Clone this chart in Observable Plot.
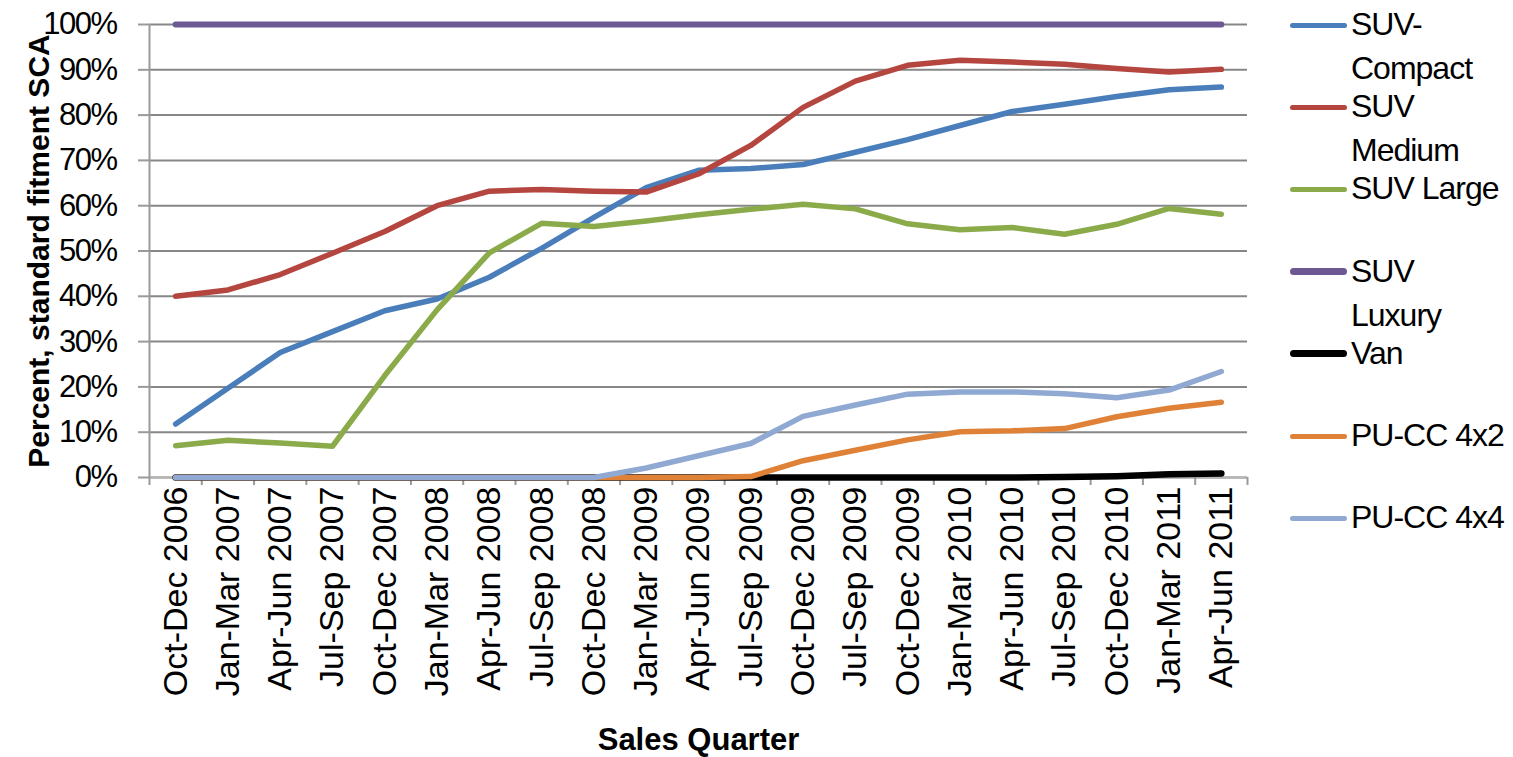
<!DOCTYPE html>
<html>
<head>
<meta charset="utf-8">
<script src="https://cdn.jsdelivr.net/npm/d3@7"></script>
<script src="https://cdn.jsdelivr.net/npm/@observablehq/plot@0.6"></script>
<style>
  body { margin: 0; background: #fff; }
  #wrap { position: relative; width: 1513px; height: 757px; overflow: hidden; font-family: "Liberation Sans", Arial, sans-serif; }
  #legend { position: absolute; left: 1290px; top: 0; }
  .key { position: absolute; left: 0; width: 57px; border-radius: 4px; }
  .lab { position: absolute; left: 61px; font-size: 32px; line-height: 44px; letter-spacing: -1px; white-space: nowrap; color: #000; }
  g[aria-label="y-axis tick label"] text { font-size: 31px; letter-spacing: -1.5px; }
  g[aria-label="x-axis tick label"] text { font-size: 34px; }
</style>
</head>
<body>
<div id="wrap"></div>
<script>
// ---- data ----
const quarters = ["Oct-Dec 2006","Jan-Mar 2007","Apr-Jun 2007","Jul-Sep 2007","Oct-Dec 2007","Jan-Mar 2008","Apr-Jun 2008","Jul-Sep 2008","Oct-Dec 2008","Jan-Mar 2009","Apr-Jun 2009","Jul-Sep 2009","Oct-Dec 2009","Jul-Sep 2009","Oct-Dec 2009","Jan-Mar 2010","Apr-Jun 2010","Jul-Sep 2010","Oct-Dec 2010","Jan-Mar 2011","Apr-Jun 2011"];
const suvCompact = [11.8,19.7,27.6,32.2,36.8,39.4,44.2,50.6,57.4,64.0,67.8,68.2,69.1,71.8,74.6,77.7,80.8,82.4,84.1,85.6,86.2];
const suvMedium  = [40.0,41.4,44.8,49.5,54.3,60.0,63.2,63.6,63.2,63.0,67.0,73.3,81.7,87.5,91.0,92.1,91.7,91.2,90.3,89.5,90.1];
const suvLarge   = [7.0,8.2,7.6,6.9,22.5,37.0,49.6,56.1,55.4,56.6,58.0,59.2,60.3,59.3,56.0,54.7,55.2,53.7,55.9,59.4,58.1];
const suvLuxury  = [100,100,100,100,100,100,100,100,100,100,100,100,100,100,100,100,100,100,100,100,100];
const van        = [0,0,0,0,0,0,0,0,0,0,0,0,0,0,0,0,0,0.1,0.3,0.7,0.9];
const pu4x2      = [0,0,0,0,0,0,0,0,0,0,0,0.2,3.7,6.0,8.3,10.1,10.3,10.8,13.4,15.3,16.6];
const pu4x4      = [0,0,0,0,0,0,0,0,0,2.1,4.8,7.5,13.5,16.0,18.4,18.9,18.9,18.5,17.6,19.3,23.4];
const seriesNames = ["SUV-Compact","SUV Medium","SUV Large","SUV Luxury","Van","PU-CC 4x2","PU-CC 4x4"];
const legendLines = [["SUV-","Compact"],["SUV","Medium"],["SUV Large"],["SUV","Luxury"],["Van"],["PU-CC 4x2"],["PU-CC 4x4"]];
const yTickValues = [0,0.1,0.2,0.3,0.4,0.5,0.6,0.7,0.8,0.9,1.0];

// ---- styling ----
const seriesData = [suvCompact, suvMedium, suvLarge, suvLuxury, van, pu4x2, pu4x4];
const colors = ["#4a7ebb","#b4453f","#8bab4b","#6c5893","#000000","#df8238","#8fa9d2"];
const widths = [5.5, 5.5, 5.5, 6, 6.5, 5.5, 5.5];

const idx = d3.range(quarters.length);
const boundaries = d3.range(-0.5, quarters.length, 1);

const lineMarks = seriesData.map((vals, k) =>
  Plot.line(idx, {x: i => i, y: i => vals[i] / 100, stroke: colors[k], strokeWidth: widths[k],
    strokeLinejoin: "round", strokeLinecap: "round"}));

const chart = Plot.plot({
  width: 1513,
  height: 757,
  marginLeft: 149,
  marginRight: 266,
  marginTop: 24,
  marginBottom: 280,
  x: {type: "linear", domain: [-0.5, quarters.length - 0.5]},
  y: {domain: [0, 1]},
  style: {fontFamily: "'Liberation Sans', Arial, sans-serif", fontSize: "32px", color: "#000", background: "#fff", overflow: "visible"},
  marks: [
    Plot.gridY(yTickValues, {stroke: "#878787", strokeOpacity: 1, strokeWidth: 2}),
    Plot.ruleY([0], {stroke: "#b5b5b5", strokeWidth: 2}),
    Plot.ruleX([-0.5], {stroke: "#9a9a9a", strokeWidth: 2}),
    Plot.axisY(yTickValues, {tickSize: 11, tickFormat: () => "", stroke: "#9a9a9a", strokeWidth: 2, label: null}),
    Plot.axisY(yTickValues, {tickSize: 0, tickPadding: 33, tickFormat: d => Math.round(d * 100) + "%", label: null}),
    Plot.axisX(boundaries, {tickSize: 8, tickFormat: () => "", stroke: "#9a9a9a", strokeWidth: 2, label: null}),
    Plot.axisX(idx, {tickSize: 0, tickPadding: 9, tickRotate: -90, tickFormat: i => quarters[i], label: null}),
    ...lineMarks,
    Plot.text(["Percent, standard fitment SCA"], {frameAnchor: "left", textAnchor: "middle", rotate: -90, dx: -110, fontWeight: "bold", fontSize: 30}),
    Plot.text(["Sales Quarter"], {frameAnchor: "bottom", lineAnchor: "middle", dy: 263, fontWeight: "bold", fontSize: 31, letterSpacing: "-0.5px"})
  ]
});

const wrap = document.getElementById("wrap");
wrap.appendChild(chart);

// ---- legend ----
const legend = document.createElement("div");
legend.id = "legend";
legendLines.forEach((lines, k) => {
  const yc = 25 + 82.2 * k;
  const key = document.createElement("div");
  key.className = "key";
  const h = (k === 3 || k === 4) ? 7 : 5;
  key.style.height = h + "px";
  key.style.top = (yc - h / 2) + "px";
  key.style.background = colors[k];
  key.title = seriesNames[k];
  legend.appendChild(key);
  const lab = document.createElement("div");
  lab.className = "lab";
  lab.style.top = (yc - 23) + "px";
  lab.innerHTML = lines.join("<br>");
  legend.appendChild(lab);
});
wrap.appendChild(legend);
</script>
</body>
</html>
